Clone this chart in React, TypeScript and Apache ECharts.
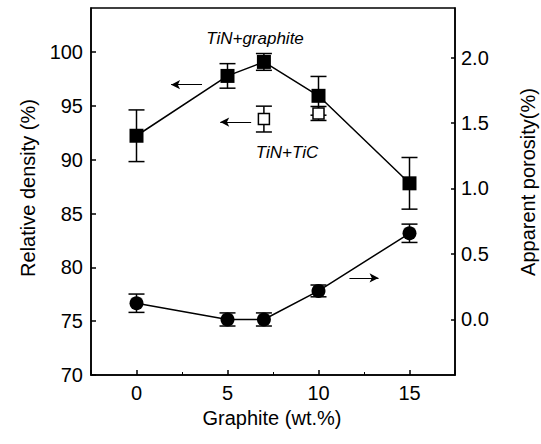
import React, { useEffect, useRef } from "react";
import * as echarts from "echarts";

// ---- data ----
const graphite = [0, 5, 7, 10, 15];
const density = [92.23, 97.79, 99.09, 95.94, 87.81];
const densityErr = [2.4, 1.14, 0.78, 1.8, 2.4];
const ticGraphite = [7, 10];
const ticDensity = [93.78, 94.3];
const ticErr = [1.2, 0.65];
const porosity = [0.124, 0.0, 0.0, 0.218, 0.658];
const porosityErr = [0.07, 0.05, 0.05, 0.045, 0.07];
const xTitle = "Graphite (wt.%)";
const yLeftTitle = "Relative density (%)";
const yRightTitle = "Apparent porosity(%)";
const labelGraphite = "TiN+graphite";
const labelTiC = "TiN+TiC";
// arrows in data units: [xFrom, xTo, y]
const arrowDensity1 = [3.6, 1.9, 96.98];
const arrowDensity2 = [6.3, 4.6, 93.5];
const arrowPorosity = [11.7, 13.3, 0.317];

const FONT = '"Liberation Sans", Arial, Helvetica, sans-serif';

function errRender(params: any, api: any) {
  const x = api.value(0);
  const lo = api.value(1);
  const hi = api.value(2);
  const p1 = api.coord([x, hi]);
  const p2 = api.coord([x, lo]);
  const w = 8;
  const st = { stroke: "#000", lineWidth: 1.5 };
  return {
    type: "group",
    children: [
      { type: "line", shape: { x1: p1[0], y1: p1[1], x2: p2[0], y2: p2[1] }, style: st },
      { type: "line", shape: { x1: p1[0] - w, y1: p1[1], x2: p1[0] + w, y2: p1[1] }, style: st },
      { type: "line", shape: { x1: p2[0] - w, y1: p2[1], x2: p2[0] + w, y2: p2[1] }, style: st },
    ],
  };
}

export default function App() {
  const ref = useRef<HTMLDivElement>(null);
  useEffect(() => {
    document.body.style.margin = "0";
    const chart = echarts.init(ref.current!, null, { renderer: "svg" });
    const axisLine = { show: true, onZero: false, lineStyle: { color: "#000", width: 1.5 } };
    const axisLabel = {
      color: "#000",
      fontSize: 20,
      fontFamily: FONT,
      showMinLabel: false,
      showMaxLabel: false,
    };
    const densityPts = graphite.map((x, i) => [x, density[i]]);
    const densityErrPts = graphite.map((x, i) => [x, density[i] - densityErr[i], density[i] + densityErr[i]]);
    const ticPts = ticGraphite.map((x, i) => [x, ticDensity[i]]);
    const ticErrPts = ticGraphite.map((x, i) => [x, ticDensity[i] - ticErr[i], ticDensity[i] + ticErr[i]]);
    const porPts = graphite.map((x, i) => [x, porosity[i]]);
    const porErrPts = graphite.map((x, i) => [x, porosity[i] - porosityErr[i], porosity[i] + porosityErr[i]]);
    const arrowLine = (a: number[]) => ({
      silent: true,
      symbol: ["none", "arrow"],
      symbolSize: [7, 9],
      label: { show: false },
      lineStyle: { color: "#000", width: 1, type: "solid" },
      data: [[{ coord: [a[0], a[2]] }, { coord: [a[1], a[2]] }]],
    });
    const option: any = {
      animation: false,
      grid: {
        left: 91,
        right: 86,
        top: 8,
        height: 367,
        show: true,
        borderColor: "#000",
        borderWidth: 1.5,
      },
      xAxis: {
        type: "value",
        min: -2.5,
        max: 17.5,
        splitNumber: 4,
        axisLine,
        axisTick: { inside: true, length: 5, lineStyle: { color: "#000", width: 1.5 } },
        minorTick: { show: true, splitNumber: 2, length: 3, lineStyle: { color: "#000", width: 1 } },
        axisLabel: { ...axisLabel, margin: 8 },
        splitLine: { show: false },
        minorSplitLine: { show: false },
      },
      yAxis: [
        {
          type: "value",
          min: 70,
          max: 104.1,
          interval: 5,
          axisLine,
          axisTick: { inside: true, length: 5, lineStyle: { color: "#000", width: 1.5 } },
          axisLabel: { ...axisLabel, showMinLabel: true, margin: 8 },
          splitLine: { show: false },
        },
        {
          type: "value",
          position: "right",
          min: -0.424,
          max: 2.378,
          splitNumber: 5,
          axisLine,
          axisTick: { inside: true, length: 4, lineStyle: { color: "#000", width: 1.5 } },
          axisLabel: { ...axisLabel, margin: 6, formatter: (v: number) => v.toFixed(1) },
          splitLine: { show: false },
        },
      ],
      series: [
        {
          type: "custom",
          name: "densityErr",
          yAxisIndex: 0,
          renderItem: errRender,
          data: densityErrPts,
          z: 1,
          silent: true,
        },
        {
          type: "custom",
          name: "ticErr",
          yAxisIndex: 0,
          renderItem: errRender,
          data: ticErrPts,
          z: 1,
          silent: true,
        },
        {
          type: "custom",
          name: "porErr",
          yAxisIndex: 1,
          renderItem: errRender,
          data: porErrPts,
          z: 1,
          silent: true,
        },
        {
          type: "line",
          name: labelGraphite,
          yAxisIndex: 0,
          data: densityPts,
          symbol: "rect",
          symbolSize: 14,
          lineStyle: { color: "#000", width: 1.5 },
          itemStyle: { color: "#000" },
          z: 3,
          markLine: arrowLine(arrowDensity1),
        },
        {
          type: "line",
          name: labelTiC,
          yAxisIndex: 0,
          data: ticPts,
          symbol: "rect",
          symbolSize: 11,
          lineStyle: { width: 0, opacity: 0 },
          itemStyle: { color: "#fff", borderColor: "#000", borderWidth: 1.5 },
          showAllSymbol: true,
          z: 4,
          markLine: arrowLine(arrowDensity2),
        },
        {
          type: "line",
          name: "porosity",
          yAxisIndex: 1,
          data: porPts,
          symbol: "circle",
          symbolSize: 14,
          lineStyle: { color: "#000", width: 1.5 },
          itemStyle: { color: "#000" },
          z: 3,
          markLine: arrowLine(arrowPorosity),
        },
      ],
      graphic: [
        {
          type: "text",
          x: 28,
          y: 188,
          rotation: Math.PI / 2,
          style: { text: yLeftTitle, fontSize: 20, fontFamily: FONT, fill: "#000", align: "center", verticalAlign: "middle" },
        },
        {
          type: "text",
          x: 528,
          y: 182,
          rotation: Math.PI / 2,
          style: { text: yRightTitle, fontSize: 20, fontFamily: FONT, fill: "#000", align: "center", verticalAlign: "middle" },
        },
        {
          type: "text",
          x: 272,
          y: 418,
          style: { text: xTitle, fontSize: 20, fontFamily: FONT, fill: "#000", align: "center", verticalAlign: "middle" },
        },
        {
          type: "text",
          x: 255,
          y: 38,
          style: { text: labelGraphite, fontSize: 17, fontStyle: "italic", fontFamily: FONT, fill: "#000", align: "center", verticalAlign: "middle" },
        },
        {
          type: "text",
          x: 287,
          y: 152,
          style: { text: labelTiC, fontSize: 17, fontStyle: "italic", fontFamily: FONT, fill: "#000", align: "center", verticalAlign: "middle" },
        },
      ],
    };
    chart.setOption(option);
    return () => chart.dispose();
  }, []);
  return <div ref={ref} style={{ width: 541, height: 444, background: "#fff" }} />;
}
